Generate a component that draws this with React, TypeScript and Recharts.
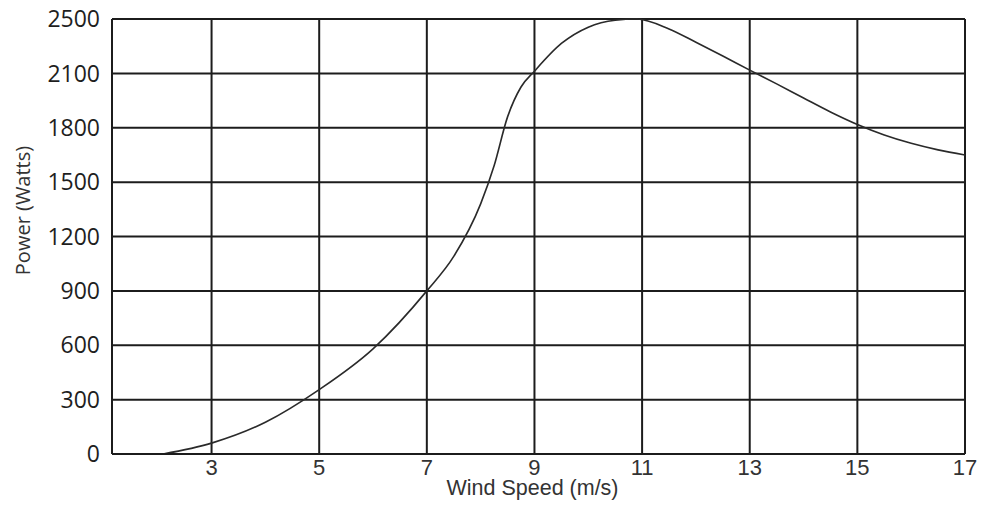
import React from 'react';
import { LineChart, Line, XAxis, YAxis, CartesianGrid, Label } from 'recharts';

// Wind speed (m/s) and power (Watts)
const windSpeed = [2.1, 3, 4, 5, 6, 7, 7.5, 8, 8.25, 8.5, 8.75, 9, 9.5, 10, 10.5, 10.9, 11.5, 12, 12.5, 13, 13.5, 14, 14.5, 15, 15.5, 16, 16.5, 17];
const powerWatts = [0, 60, 175, 355, 580, 900, 1090, 1380, 1590, 1860, 2025, 2116, 2320, 2440, 2491, 2500, 2427, 2329, 2228, 2124, 2042, 1964, 1887, 1818, 1760, 1714, 1678, 1650];

const xTicks = [3, 5, 7, 9, 11, 13, 15, 17];
const yTickValues = [0, 300, 600, 900, 1200, 1500, 1800, 2100, 2500];

// The reference's axis puts 2500 one gridline above 2100 (same spacing as 300 steps)
const toAxis = (w: number) => (w <= 2100 ? w : 2100 + (w - 2100) * 0.75);

const data = windSpeed.map((s, i) => ({ speed: s, power: toAxis(powerWatts[i]) }));

const gridColor = '#1c1c1c';

const YTitle = (props: any) => {
  const vb = props.viewBox || { x: 0, y: 0, width: 0, height: 0 };
  const cx = 22;
  const cy = vb.y + vb.height / 2 - 26;
  return (
    <text
      x={cx}
      y={cy}
      transform={`rotate(-90, ${cx}, ${cy})`}
      textAnchor="middle"
      dominantBaseline="central"
      fontFamily="'Open Sans', sans-serif"
      fontSize={20}
      fill="#333"
    >
      Power (Watts)
    </text>
  );
};

const XTitle = (props: any) => {
  const vb = props.viewBox || { x: 0, y: 0, width: 0, height: 0 };
  return (
    <text
      x={vb.x + vb.width / 2 - 6}
      y={495}
      textAnchor="middle"
      fontFamily="'Liberation Sans', Arial, sans-serif"
      fontSize={21.5}
      fill="#333"
    >
      Wind Speed (m/s)
    </text>
  );
};

export default function App() {
  return (
    <div style={{ position: 'absolute', left: 0, top: 0, width: 985, height: 506, background: '#fff' }}>
      <LineChart width={985} height={506} data={data} margin={{ top: 19, right: 20, bottom: 0, left: 0 }}>
        <CartesianGrid stroke={gridColor} strokeWidth={2} />
        <XAxis
          type="number"
          dataKey="speed"
          domain={[1.15, 17]}
          ticks={xTicks}
          allowDataOverflow
          height={52}
          tickLine={false}
          tickSize={0}
          tickMargin={5}
          axisLine={{ stroke: gridColor, strokeWidth: 2 }}
          tick={{ fontFamily: "'Liberation Sans', Arial, sans-serif", fontSize: 22, fill: '#333' }}
        >
          <Label content={XTitle} />
        </XAxis>
        <YAxis
          type="number"
          domain={[0, 2400]}
          ticks={yTickValues.map(toAxis)}
          tickFormatter={(v: number, i: number) => String(yTickValues[i])}
          width={112}
          tickLine={false}
          tickSize={0}
          tickMargin={12}
          axisLine={{ stroke: gridColor, strokeWidth: 2 }}
          tick={{ fontFamily: "'Open Sans', sans-serif", fontSize: 23, fill: '#1e1e1e' }}
          interval={0}
        >
          <Label content={YTitle} />
        </YAxis>
        <Line
          type="monotone"
          dataKey="power"
          stroke="#2a2a2a"
          strokeWidth={1.6}
          dot={false}
          activeDot={false}
          isAnimationActive={false}
        />
      </LineChart>
    </div>
  );
}
